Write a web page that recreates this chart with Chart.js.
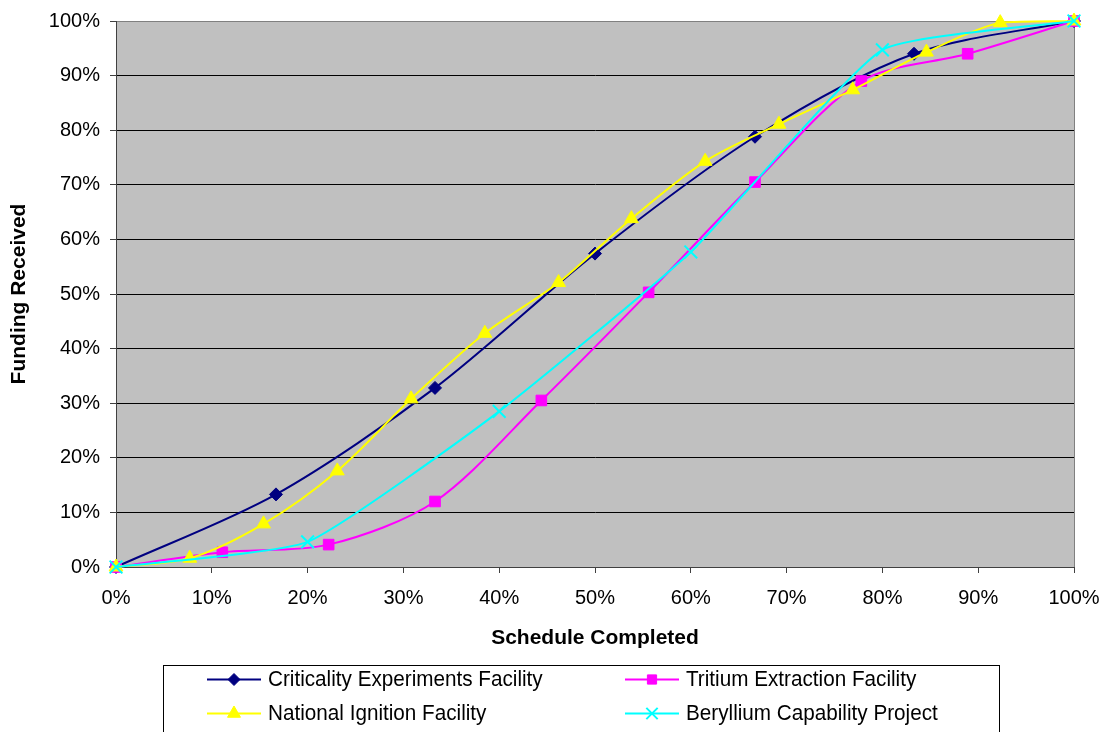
<!DOCTYPE html>
<html>
<head>
<meta charset="utf-8">
<script src="https://cdn.jsdelivr.net/npm/chart.js@4/dist/chart.umd.min.js"></script>
<style>
  html, body { margin: 0; padding: 0; background: #ffffff; }
  #wrap { position: relative; width: 1106px; height: 732px; }
</style>
</head>
<body>
<div id="wrap"><canvas id="chart" width="1106" height="732"></canvas></div>
<script>
// Share of schedule completed (%) and share of funding received (%) per project
const cefSchedule = [0, 16.7, 33.3, 50, 66.7, 83.3, 100];
const cefFunding  = [0, 13.3, 32.8, 57.4, 78.8, 94.0, 100];

const tefSchedule = [0, 11.1, 22.2, 33.3, 44.4, 55.6, 66.7, 77.8, 88.9, 100];
const tefFunding  = [0, 2.7, 4.1, 12.0, 30.5, 50.3, 70.5, 89.0, 94.0, 100];

const nifSchedule = [0, 7.7, 15.4, 23.1, 30.8, 38.5, 46.2, 53.8, 61.5, 69.2, 76.9, 84.6, 92.3, 100];
const nifFunding  = [0, 1.6, 7.9, 17.6, 30.8, 42.8, 52.1, 63.8, 74.3, 81.1, 87.4, 94.3, 99.7, 100];

const bcpSchedule = [0, 20, 40, 60, 80, 100];
const bcpFunding  = [0, 4.6, 28.5, 57.7, 94.7, 100];

const seriesNames = [
  'Criticality Experiments Facility',
  'Tritium Extraction Facility',
  'National Ignition Facility',
  'Beryllium Capability Project'
];

const percentTicks = [0, 10, 20, 30, 40, 50, 60, 70, 80, 90, 100];

function pairs(xs, ys) {
  return xs.map((x, i) => ({ x: x, y: ys[i] }));
}

const FONT = "'Liberation Sans', Arial, sans-serif";
Chart.defaults.font.family = FONT;
Chart.defaults.color = '#000000';

const plotFrame = {
  id: 'plotFrame',
  beforeDraw(chart) {
    const { ctx, chartArea: a } = chart;
    ctx.save();
    ctx.fillStyle = '#C0C0C0';
    ctx.fillRect(a.left, a.top, a.right - a.left, a.bottom - a.top);
    ctx.strokeStyle = '#808080';
    ctx.lineWidth = 1;
    ctx.beginPath();
    ctx.moveTo(a.left, a.top + 0.5);
    ctx.lineTo(a.right + 0.5, a.top + 0.5);
    ctx.lineTo(a.right + 0.5, a.bottom);
    ctx.stroke();
    ctx.restore();
  }
};

// Boxed two-column legend below the axis title
const boxLegend = {
  id: 'boxLegend',
  afterDraw(chart) {
    const ctx = chart.ctx;
    ctx.save();
    ctx.strokeStyle = '#000000';
    ctx.lineWidth = 1;
    ctx.strokeRect(163.5, 665.5, 836, 80);
    const slots = [
      { ds: 0, x: 207, y: 679 },
      { ds: 1, x: 625, y: 679 },
      { ds: 2, x: 207, y: 713 },
      { ds: 3, x: 625, y: 713 }
    ];
    ctx.font = '21px ' + FONT;
    ctx.textBaseline = 'middle';
    ctx.textAlign = 'left';
    slots.forEach(s => {
      const d = chart.data.datasets[s.ds];
      ctx.strokeStyle = d.borderColor;
      ctx.lineWidth = 2;
      ctx.beginPath();
      ctx.moveTo(s.x, s.y + 0.5);
      ctx.lineTo(s.x + 54, s.y + 0.5);
      ctx.stroke();
      ctx.fillStyle = d.pointBackgroundColor;
      ctx.strokeStyle = d.pointBorderColor;
      ctx.lineWidth = d.pointBorderWidth;
      Chart.helpers.drawPoint(ctx, {
        pointStyle: d.pointStyle,
        radius: d.legendRadius,
        rotation: 0,
        borderWidth: d.pointBorderWidth
      }, s.x + 27, s.y + 0.5);
      ctx.fillStyle = '#000000';
      ctx.save();
      ctx.translate(s.x + 61, s.y + 1);
      ctx.scale(0.985, 1.08);
      ctx.fillText(d.label, 0, 0);
      ctx.restore();
    });
    ctx.restore();
  }
};

new Chart(document.getElementById('chart'), {
  type: 'line',
  data: {
    datasets: [
      {
        label: seriesNames[0],
        data: pairs(cefSchedule, cefFunding),
        borderColor: '#000080', backgroundColor: '#000080',
        pointBackgroundColor: '#000080', pointBorderColor: '#000080',
        pointStyle: 'rectRot', pointRadius: 6.5, pointBorderWidth: 1, legendRadius: 6,
        borderWidth: 2, tension: 0.3, order: 4, clip: false
      },
      {
        label: seriesNames[1],
        data: pairs(tefSchedule, tefFunding),
        borderColor: '#FF00FF', backgroundColor: '#FF00FF',
        pointBackgroundColor: '#FF00FF', pointBorderColor: '#FF00FF',
        pointStyle: 'rect', pointRadius: 7.5, pointBorderWidth: 1, legendRadius: 6.5,
        borderWidth: 2, tension: 0.3, order: 3, clip: false
      },
      {
        label: seriesNames[2],
        data: pairs(nifSchedule, nifFunding),
        borderColor: '#FFFF00', backgroundColor: '#FFFF00',
        pointBackgroundColor: '#FFFF00', pointBorderColor: '#FFFF00',
        pointStyle: 'triangle', pointRadius: 8, pointBorderWidth: 1, legendRadius: 7.5,
        borderWidth: 2, tension: 0.3, order: 2, clip: false
      },
      {
        label: seriesNames[3],
        data: pairs(bcpSchedule, bcpFunding),
        borderColor: '#00FFFF', backgroundColor: '#00FFFF',
        pointBackgroundColor: '#00FFFF', pointBorderColor: '#00FFFF',
        pointStyle: 'crossRot', pointRadius: 9, pointBorderWidth: 2, legendRadius: 8,
        borderWidth: 2, tension: 0.15, order: 1, clip: false
      }
    ]
  },
  options: {
    responsive: false,
    animation: false,
    events: [],
    layout: { padding: { top: 21, right: 32, bottom: 81, left: 0 } },
    plugins: {
      legend: { display: false },
      tooltip: { enabled: false }
    },
    scales: {
      x: {
        type: 'linear',
        min: 0, max: 100,
        afterBuildTicks(scale) { scale.ticks = percentTicks.map(v => ({ value: v })); },
        afterFit(scale) {
          scale.height = 84;
          scale.paddingLeft = 0;
          scale.paddingRight = 0;
        },
        ticks: {
          padding: 13,
          font: { size: 20 },
          color: '#000000',
          callback: v => v + '%'
        },
        grid: {
          drawOnChartArea: false,
          drawTicks: true,
          tickLength: 6,
          color: '#404040'
        },
        border: { color: '#404040', width: 1 },
        title: {
          display: true,
          text: 'Schedule Completed',
          font: { size: 21, weight: 'bold' },
          color: '#000000',
          padding: { top: 0, bottom: 0 }
        }
      },
      y: {
        type: 'linear',
        min: 0, max: 100,
        afterBuildTicks(scale) { scale.ticks = percentTicks.map(v => ({ value: v })); },
        afterFit(scale) {
          scale.width = 116;
          scale.paddingTop = 0;
          scale.paddingBottom = 0;
        },
        ticks: {
          padding: 10,
          font: { size: 20 },
          color: '#000000',
          callback: v => v + '%'
        },
        grid: {
          tickLength: 6,
          color: ctx => (ctx.tick && ctx.tick.value === 100) ? '#808080' : '#000000',
          tickColor: '#404040',
          lineWidth: 1
        },
        border: { color: '#404040', width: 1 },
        title: {
          display: true,
          text: 'Funding Received',
          font: { size: 21, weight: 'bold' },
          color: '#000000',
          padding: { top: 7, bottom: 0 }
        }
      }
    }
  },
  plugins: [plotFrame, boxLegend]
});
</script>
</body>
</html>
